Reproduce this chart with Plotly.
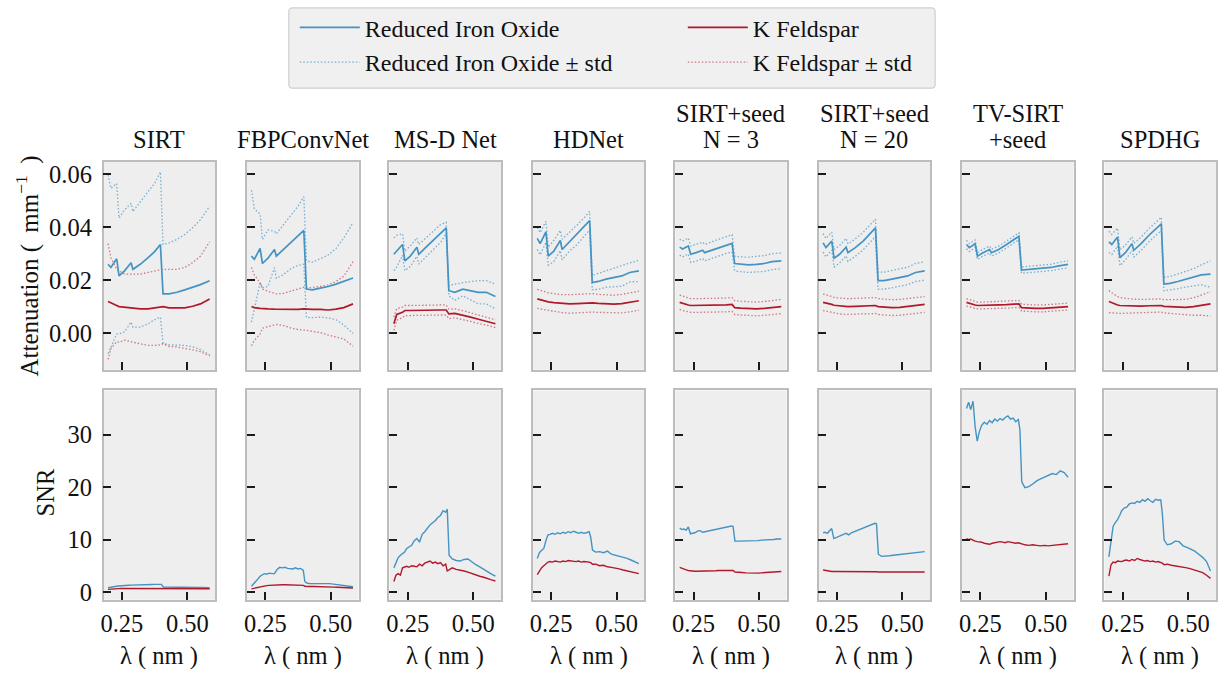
import plotly.graph_objects as go

# ---------------- data ----------------
LAMBDA_ATT = [0.197, 0.208, 0.230, 0.239, 0.26, 0.285, 0.292, 0.32, 0.35, 0.375,
              0.397, 0.407, 0.43, 0.46, 0.49, 0.52, 0.55, 0.585]
LAMBDA_SNR = [0.197, 0.205, 0.213, 0.222, 0.230, 0.238, 0.246, 0.255, 0.265, 0.275,
              0.285, 0.295, 0.305, 0.315, 0.325, 0.335, 0.345, 0.355, 0.365, 0.375,
              0.385, 0.395, 0.401, 0.408, 0.42, 0.435, 0.45, 0.465, 0.48, 0.495,
              0.51, 0.525, 0.54, 0.555, 0.57, 0.585]

METHOD_TITLES = [["SIRT"], ["FBPConvNet"], ["MS-D Net"], ["HDNet"], ["SIRT+seed", "N = 3"],
                 ["SIRT+seed", "N = 20"], ["TV-SIRT", "+seed"], ["SPDHG"]]
SERIES_NAMES = ["Reduced Iron Oxide", "K Feldspar"]
ATT_TICKS = [0.0, 0.02, 0.04, 0.06]
SNR_TICKS = [0, 10, 20, 30]
LAMBDA_TICKS = [0.25, 0.50]

# SIRT
SIRT_IRON_MEAN = [0.0260, 0.0248, 0.0281, 0.0216, 0.0235, 0.0266, 0.0241, 0.0260, 0.0285, 0.0308,
                  0.0335, 0.0148, 0.0148, 0.0154, 0.0163, 0.0173, 0.0183, 0.0198]
SIRT_IRON_STD = [0.0338, 0.0300, 0.0285, 0.0219, 0.0231, 0.0225, 0.0219, 0.0238, 0.0250, 0.0258,
                 0.0275, 0.0187, 0.0193, 0.0200, 0.0210, 0.0225, 0.0246, 0.0281]
SIRT_FELD_MEAN = [0.0119, 0.0113, 0.0104, 0.0100, 0.0098, 0.0094, 0.0094, 0.0091, 0.0091, 0.0094,
                  0.0098, 0.0100, 0.0095, 0.0094, 0.0095, 0.0101, 0.0110, 0.0129]
SIRT_FELD_STD = [0.0219, 0.0172, 0.0137, 0.0135, 0.0125, 0.0129, 0.0129, 0.0132, 0.0138, 0.0141,
                 0.0143, 0.0141, 0.0146, 0.0147, 0.0153, 0.0165, 0.0181, 0.0216]
SIRT_IRON_SNR = [0.8, 0.9, 1.0, 1.05, 1.1, 1.15, 1.2, 1.22, 1.25, 1.27, 1.3, 1.3, 1.32, 1.35, 1.37,
                 1.38, 1.4, 1.42, 1.43, 1.45, 1.47, 1.48, 1.45, 0.95, 0.93, 0.92, 0.92, 0.9, 0.9,
                 0.88, 0.87, 0.86, 0.85, 0.84, 0.82, 0.8]
SIRT_FELD_SNR = [0.5, 0.55, 0.6, 0.62, 0.63, 0.64, 0.65, 0.65, 0.66, 0.66, 0.67, 0.67, 0.67, 0.68,
                 0.68, 0.68, 0.69, 0.69, 0.7, 0.7, 0.7, 0.7, 0.7, 0.68, 0.68, 0.68, 0.67, 0.67,
                 0.66, 0.66, 0.65, 0.65, 0.64, 0.64, 0.63, 0.62]

# FBPConvNet
FBP_IRON_MEAN = [0.0291, 0.0279, 0.0320, 0.0263, 0.0283, 0.0316, 0.0291, 0.0316, 0.0345, 0.0368,
                 0.0388, 0.0166, 0.0163, 0.0170, 0.0176, 0.0185, 0.0195, 0.0208]
FBP_IRON_STD = [0.0250, 0.0191, 0.0130, 0.0091, 0.0107, 0.0069, 0.0084, 0.0094, 0.0100, 0.0112,
                0.0128, 0.0107, 0.0105, 0.0110, 0.0119, 0.0135, 0.0165, 0.0210]
FBP_FELD_MEAN = [0.0100, 0.0096, 0.0093, 0.0092, 0.0091, 0.0090, 0.0090, 0.0089, 0.0088, 0.0089,
                 0.0091, 0.0090, 0.0089, 0.0089, 0.0087, 0.0090, 0.0096, 0.0110]
FBP_FELD_STD = [0.0148, 0.0124, 0.0097, 0.0074, 0.0067, 0.0060, 0.0058, 0.0061, 0.0070, 0.0076,
                0.0082, 0.0080, 0.0083, 0.0087, 0.0095, 0.0105, 0.0119, 0.0160]
FBP_IRON_SNR = [1.1, 1.5, 2.0, 2.5, 3.0, 3.3, 3.5, 3.4, 3.6, 3.5, 3.5, 4.3, 4.7, 4.6, 4.7, 4.5,
                4.5, 4.4, 4.6, 4.4, 4.5, 4.1, 2.0, 1.7, 1.6, 1.6, 1.7, 1.7, 1.6, 1.6, 1.5, 1.4,
                1.3, 1.2, 1.1, 1.0]
FBP_FELD_SNR = [0.6, 0.7, 0.8, 0.9, 1.0, 1.1, 1.15, 1.2, 1.25, 1.3, 1.3, 1.32, 1.35, 1.37, 1.38,
                1.38, 1.37, 1.35, 1.33, 1.3, 1.28, 1.25, 1.1, 1.05, 1.05, 1.05, 1.0, 1.0, 0.98,
                0.95, 0.92, 0.9, 0.88, 0.85, 0.8, 0.75]

# MS-D Net
MSD_IRON_MEAN = [0.0298, 0.0310, 0.0335, 0.0273, 0.0291, 0.0325, 0.0298, 0.0325, 0.0354, 0.0376,
                 0.0398, 0.0160, 0.0154, 0.0166, 0.0160, 0.0154, 0.0154, 0.0138]
MSD_IRON_STD = [0.0062, 0.0060, 0.0041, 0.0037, 0.0039, 0.0035, 0.0037, 0.0035, 0.0036, 0.0034,
                0.0021, 0.0019, 0.0031, 0.0025, 0.0035, 0.0044, 0.0044, 0.0047]
MSD_FELD_MEAN = [0.0035, 0.0070, 0.0078, 0.0085, 0.0085, 0.0086, 0.0086, 0.0087, 0.0087, 0.0087,
                 0.0087, 0.0072, 0.0074, 0.0068, 0.0060, 0.0052, 0.0045, 0.0035]
MSD_FELD_STD = [0.0025, 0.0022, 0.0020, 0.0019, 0.0019, 0.0019, 0.0019, 0.0019, 0.0019, 0.0019,
                0.0019, 0.0018, 0.0017, 0.0017, 0.0016, 0.0016, 0.0015, 0.0015]
MSD_IRON_SNR = [4.6, 5.6, 6.5, 7.0, 7.4, 7.6, 8.3, 8.6, 8.9, 9.8, 10.2, 9.5, 11.0, 11.5, 12.2,
                12.8, 13.2, 13.6, 14.2, 14.6, 15.5, 15.2, 15.8, 7.0, 6.3, 6.0, 5.9, 6.2, 6.3,
                5.7, 5.2, 4.8, 4.3, 3.9, 3.4, 3.0]
MSD_FELD_SNR = [2.0, 3.2, 3.5, 3.2, 4.6, 4.8, 4.9, 4.7, 5.0, 4.9, 4.8, 5.3, 5.0, 5.5, 5.7, 5.9,
                5.5, 5.7, 5.4, 5.6, 5.0, 5.3, 4.0, 4.2, 4.6, 4.3, 4.2, 4.0, 3.8, 3.5, 3.3, 3.0,
                2.8, 2.5, 2.3, 2.1]

# HDNet
HD_IRON_MEAN = [0.0358, 0.0338, 0.0383, 0.0291, 0.0310, 0.0350, 0.0316, 0.0345, 0.0373, 0.0400,
                0.0425, 0.0191, 0.0195, 0.0204, 0.0210, 0.0216, 0.0229, 0.0235]
HD_IRON_STD = [0.0042, 0.0042, 0.0040, 0.0034, 0.0040, 0.0038, 0.0039, 0.0035, 0.0037, 0.0035,
               0.0035, 0.0027, 0.0030, 0.0031, 0.0035, 0.0039, 0.0036, 0.0040]
HD_FELD_MEAN = [0.0129, 0.0126, 0.0120, 0.0118, 0.0115, 0.0112, 0.0111, 0.0110, 0.0111, 0.0113,
                0.0115, 0.0114, 0.0112, 0.0111, 0.0109, 0.0111, 0.0116, 0.0122]
HD_FELD_STD = [0.0036, 0.0035, 0.0034, 0.0034, 0.0034, 0.0034, 0.0034, 0.0035, 0.0035, 0.0035,
               0.0035, 0.0035, 0.0034, 0.0034, 0.0034, 0.0035, 0.0036, 0.0036]
HD_IRON_SNR = [6.4, 7.5, 7.9, 8.3, 9.8, 10.9, 11.0, 11.2, 11.0, 11.3, 11.1, 11.4, 11.2, 11.5,
               11.3, 11.6, 11.4, 11.2, 11.4, 11.2, 11.3, 11.5, 10.5, 8.0, 7.6, 7.7, 7.5, 7.8,
               7.2, 7.0, 6.9, 6.6, 6.4, 6.1, 5.8, 5.4]
HD_FELD_SNR = [3.3, 4.0, 4.6, 5.0, 5.4, 5.7, 5.8, 5.7, 5.9, 5.8, 5.7, 5.9, 5.8, 6.0, 5.9, 5.9,
               5.8, 5.9, 5.7, 5.8, 5.8, 5.7, 5.6, 5.3, 5.3, 5.0, 5.1, 4.8, 4.7, 4.6, 4.4, 4.2,
               4.0, 3.9, 3.7, 3.5]

# SIRT+seed N = 3
N3_IRON_MEAN = [0.0325, 0.0318, 0.0329, 0.0298, 0.0304, 0.0313, 0.0304, 0.0313, 0.0325, 0.0333,
                0.0339, 0.0263, 0.0260, 0.0258, 0.0260, 0.0263, 0.0270, 0.0273]
N3_IRON_STD = [0.0030, 0.0030, 0.0030, 0.0031, 0.0032, 0.0031, 0.0031, 0.0031, 0.0031, 0.0032,
               0.0033, 0.0028, 0.0028, 0.0029, 0.0029, 0.0030, 0.0030, 0.0030]
N3_FELD_MEAN = [0.0116, 0.0112, 0.0106, 0.0104, 0.0104, 0.0104, 0.0104, 0.0104, 0.0105, 0.0106,
                0.0108, 0.0096, 0.0094, 0.0092, 0.0091, 0.0093, 0.0096, 0.0100]
N3_FELD_STD = [0.0027, 0.0027, 0.0026, 0.0026, 0.0026, 0.0026, 0.0026, 0.0026, 0.0026, 0.0026,
               0.0026, 0.0026, 0.0026, 0.0026, 0.0026, 0.0026, 0.0027, 0.0027]
N3_IRON_SNR = [12.2, 11.9, 12.0, 11.8, 12.4, 11.1, 11.2, 11.3, 11.6, 11.7, 11.4, 11.5, 11.6,
               11.7, 11.8, 11.9, 12.0, 12.1, 12.2, 12.3, 12.4, 12.6, 12.5, 9.7, 9.7, 9.7, 9.7,
               9.8, 9.8, 9.8, 9.9, 9.9, 10.0, 10.0, 10.1, 10.1]
N3_FELD_SNR = [4.7, 4.5, 4.3, 4.2, 4.1, 4.0, 4.0, 3.95, 3.95, 4.0, 4.0, 4.0, 4.0, 4.0, 4.05,
               4.05, 4.1, 4.1, 4.1, 4.15, 4.15, 4.2, 4.1, 3.8, 3.7, 3.7, 3.65, 3.6, 3.6, 3.6,
               3.65, 3.7, 3.75, 3.8, 3.85, 3.9]

# SIRT+seed N = 20
N20_IRON_MEAN = [0.0341, 0.0323, 0.0348, 0.0283, 0.0298, 0.0325, 0.0304, 0.0323, 0.0348, 0.0373,
                 0.0398, 0.0198, 0.0198, 0.0204, 0.0210, 0.0216, 0.0229, 0.0235]
N20_IRON_STD = [0.0035, 0.0035, 0.0034, 0.0033, 0.0033, 0.0033, 0.0033, 0.0033, 0.0033, 0.0033,
                0.0033, 0.0032, 0.0032, 0.0033, 0.0033, 0.0033, 0.0034, 0.0035]
N20_FELD_MEAN = [0.0116, 0.0114, 0.0108, 0.0105, 0.0102, 0.0100, 0.0100, 0.0101, 0.0103, 0.0102,
                 0.0104, 0.0100, 0.0098, 0.0096, 0.0097, 0.0100, 0.0104, 0.0108]
N20_FELD_STD = [0.0031, 0.0031, 0.0030, 0.0030, 0.0030, 0.0030, 0.0030, 0.0030, 0.0030, 0.0030,
                0.0030, 0.0030, 0.0030, 0.0030, 0.0030, 0.0030, 0.0030, 0.0030]
N20_IRON_SNR = [11.3, 11.4, 11.2, 11.6, 12.1, 10.2, 10.4, 10.6, 10.8, 11.0, 11.2, 10.9, 11.3,
                11.5, 11.7, 11.9, 12.1, 12.3, 12.5, 12.7, 12.9, 13.1, 13.0, 7.2, 6.8, 6.8, 6.9,
                7.0, 7.1, 7.2, 7.3, 7.4, 7.5, 7.6, 7.6, 7.7]
N20_FELD_SNR = [4.2, 4.1, 4.0, 3.95, 3.9, 3.9, 3.9, 3.85, 3.85, 3.9, 3.9, 3.9, 3.95, 3.9, 3.95,
                3.95, 3.9, 3.95, 3.9, 3.9, 3.9, 3.85, 3.85, 3.8, 3.8, 3.75, 3.75, 3.7, 3.7, 3.7,
                3.75, 3.75, 3.8, 3.8, 3.8, 3.8]

# TV-SIRT + seed
TV_IRON_MEAN = [0.0335, 0.0323, 0.0338, 0.0291, 0.0304, 0.0316, 0.0304, 0.0316, 0.0335, 0.0350,
                0.0366, 0.0238, 0.0240, 0.0241, 0.0244, 0.0248, 0.0254, 0.0260]
TV_IRON_STD = [0.0016, 0.0015, 0.0014, 0.0013, 0.0013, 0.0013, 0.0013, 0.0013, 0.0013, 0.0013,
               0.0013, 0.0012, 0.0012, 0.0012, 0.0012, 0.0012, 0.0013, 0.0013]
TV_FELD_MEAN = [0.0116, 0.0112, 0.0106, 0.0104, 0.0104, 0.0105, 0.0105, 0.0106, 0.0107, 0.0108,
                0.0110, 0.0096, 0.0094, 0.0093, 0.0093, 0.0095, 0.0097, 0.0100]
TV_FELD_STD = [0.0014, 0.0014, 0.0013, 0.0013, 0.0013, 0.0013, 0.0013, 0.0013, 0.0013, 0.0013,
               0.0013, 0.0013, 0.0013, 0.0013, 0.0013, 0.0013, 0.0013, 0.0013]
TV_IRON_SNR = [35.0, 36.2, 34.8, 36.4, 31.5, 28.8, 30.6, 31.8, 32.4, 32.0, 32.7, 32.3, 33.0,
               32.6, 33.1, 32.8, 33.3, 33.6, 33.0, 33.2, 32.5, 32.9, 31.0, 21.0, 19.9, 20.1,
               20.6, 21.2, 21.6, 21.9, 22.3, 22.6, 22.4, 23.1, 22.8, 21.9]
TV_FELD_SNR = [10.2, 10.0, 10.1, 9.8, 9.7, 9.6, 9.6, 9.5, 9.3, 9.2, 9.1, 9.3, 9.4, 9.5, 9.6,
               9.5, 9.4, 9.6, 9.5, 9.4, 9.3, 9.4, 9.3, 9.2, 9.0, 8.9, 9.0, 8.9, 8.8, 8.9, 8.8,
               8.9, 9.0, 9.1, 9.2, 9.2]

# SPDHG
SPDHG_IRON_MEAN = [0.0345, 0.0335, 0.0363, 0.0285, 0.0304, 0.0338, 0.0313, 0.0338, 0.0370,
                   0.0391, 0.0413, 0.0185, 0.0188, 0.0195, 0.0204, 0.0210, 0.0220, 0.0223]
SPDHG_IRON_STD = [0.0040, 0.0038, 0.0034, 0.0030, 0.0028, 0.0026, 0.0026, 0.0025, 0.0025,
                  0.0025, 0.0025, 0.0025, 0.0026, 0.0028, 0.0030, 0.0033, 0.0038, 0.0050]
SPDHG_FELD_MEAN = [0.0119, 0.0114, 0.0106, 0.0104, 0.0103, 0.0102, 0.0102, 0.0102, 0.0103,
                   0.0103, 0.0104, 0.0101, 0.0100, 0.0098, 0.0097, 0.0100, 0.0105, 0.0110]
SPDHG_FELD_STD = [0.0042, 0.0038, 0.0032, 0.0030, 0.0028, 0.0026, 0.0026, 0.0025, 0.0025,
                  0.0025, 0.0025, 0.0025, 0.0026, 0.0028, 0.0030, 0.0033, 0.0038, 0.0046]
SPDHG_IRON_SNR = [6.7, 10.0, 12.5, 13.3, 13.8, 14.6, 15.5, 16.0, 16.2, 16.8, 17.0, 16.9, 17.3,
                  17.1, 17.6, 17.3, 17.8, 17.4, 17.1, 17.7, 17.5, 17.6, 15.0, 9.9, 9.0, 9.2,
                  9.7, 9.6, 8.8, 8.5, 8.2, 7.8, 7.2, 6.6, 5.8, 4.0]
SPDHG_FELD_SNR = [3.0, 5.2, 5.7, 5.6, 5.9, 5.8, 5.8, 6.0, 6.1, 5.9, 6.2, 6.0, 6.4, 6.2, 6.0,
                  5.9, 6.0, 5.8, 5.9, 5.7, 5.8, 5.7, 5.5, 5.2, 5.3, 5.1, 5.0, 4.9, 4.8, 4.6,
                  4.4, 4.2, 4.0, 3.7, 3.2, 2.6]

PANELS = [
    (SIRT_IRON_MEAN, SIRT_IRON_STD, SIRT_FELD_MEAN, SIRT_FELD_STD, SIRT_IRON_SNR, SIRT_FELD_SNR),
    (FBP_IRON_MEAN, FBP_IRON_STD, FBP_FELD_MEAN, FBP_FELD_STD, FBP_IRON_SNR, FBP_FELD_SNR),
    (MSD_IRON_MEAN, MSD_IRON_STD, MSD_FELD_MEAN, MSD_FELD_STD, MSD_IRON_SNR, MSD_FELD_SNR),
    (HD_IRON_MEAN, HD_IRON_STD, HD_FELD_MEAN, HD_FELD_STD, HD_IRON_SNR, HD_FELD_SNR),
    (N3_IRON_MEAN, N3_IRON_STD, N3_FELD_MEAN, N3_FELD_STD, N3_IRON_SNR, N3_FELD_SNR),
    (N20_IRON_MEAN, N20_IRON_STD, N20_FELD_MEAN, N20_FELD_STD, N20_IRON_SNR, N20_FELD_SNR),
    (TV_IRON_MEAN, TV_IRON_STD, TV_FELD_MEAN, TV_FELD_STD, TV_IRON_SNR, TV_FELD_SNR),
    (SPDHG_IRON_MEAN, SPDHG_IRON_STD, SPDHG_FELD_MEAN, SPDHG_FELD_STD, SPDHG_IRON_SNR, SPDHG_FELD_SNR),
]

# ---------------- style / layout ----------------
W, H = 1218, 674
FONT = "'Liberation Serif', 'Times New Roman', 'DejaVu Serif', serif"
BLUE = "#4393c3"
RED = "#b2182b"
BLUE_STD = "rgba(67,147,195,0.7)"
RED_STD = "rgba(178,24,43,0.55)"
COL_LEFT = [101, 245, 388, 532, 675, 819, 963, 1106]
COL_W = 112
ROW_TOP = [(163, 373), (394, 605)]
X_RANGE = [0.18, 0.606]
ATT_RANGE = [-0.0139, 0.0649]
SNR_RANGE = [-1.46, 38.45]
FS = 24.5
LEG_FS = 24


def px_x(p):
    return p / W


def px_y(p):
    return 1 - p / H


fig = go.Figure()
layout = {}
annotations = []

for c, data in enumerate(PANELS):
    iron_mean, iron_std, feld_mean, feld_std, iron_snr, feld_snr = data
    for r in range(2):
        idx = r * 8 + c + 1
        xa = "x" if idx == 1 else f"x{idx}"
        ya = "y" if idx == 1 else f"y{idx}"
        first = (c == 0 and r == 0)
        if r == 0:
            for mean, std, col, scol, name in [
                (iron_mean, iron_std, BLUE, BLUE_STD, SERIES_NAMES[0]),
                (feld_mean, feld_std, RED, RED_STD, SERIES_NAMES[1]),
            ]:
                upper = [m + s for m, s in zip(mean, std)]
                lower = [m - s for m, s in zip(mean, std)]
                fig.add_trace(go.Scatter(
                    x=LAMBDA_ATT, y=upper, mode="lines", xaxis=xa, yaxis=ya,
                    line=dict(color=scol, width=1.3, dash="1.5px,2px"),
                    name=name + " ± std", legend="legend2", legendgroup=name + "std",
                    showlegend=first, hoverinfo="skip"))
                fig.add_trace(go.Scatter(
                    x=LAMBDA_ATT, y=lower, mode="lines", xaxis=xa, yaxis=ya,
                    line=dict(color=scol, width=1.3, dash="1.5px,2px"),
                    name=name + " ± std", legend="legend2", legendgroup=name + "std",
                    showlegend=False, hoverinfo="skip"))
            for mean, col, name in [(iron_mean, BLUE, SERIES_NAMES[0]),
                                    (feld_mean, RED, SERIES_NAMES[1])]:
                fig.add_trace(go.Scatter(
                    x=LAMBDA_ATT, y=mean, mode="lines", xaxis=xa, yaxis=ya,
                    line=dict(color=col, width=1.7), name=name, legend="legend",
                    legendgroup=name, showlegend=first))
        else:
            for snr, col, name in [(iron_snr, BLUE, SERIES_NAMES[0]),
                                   (feld_snr, RED, SERIES_NAMES[1])]:
                fig.add_trace(go.Scatter(
                    x=LAMBDA_SNR, y=snr, mode="lines", xaxis=xa, yaxis=ya,
                    line=dict(color=col, width=1.4), name=name,
                    legendgroup=name, showlegend=False))

        x0, x1 = COL_LEFT[c], COL_LEFT[c] + COL_W
        t, b = ROW_TOP[r]
        axis_common = dict(showline=True, mirror=True, linecolor="#bdbdbd", linewidth=1.5,
                           showgrid=False, zeroline=False, ticks="inside", ticklen=8,
                           tickwidth=2, tickcolor="#1a1a1a",
                           tickfont=dict(family=FONT, size=FS, color="#111"))
        layout["xaxis" if idx == 1 else f"xaxis{idx}"] = dict(
            axis_common, domain=[px_x(x0), px_x(x1)], anchor=ya, range=X_RANGE,
            tickvals=LAMBDA_TICKS, tickformat=".2f", showticklabels=(r == 1),
            ticklabelstandoff=1)
        layout["yaxis" if idx == 1 else f"yaxis{idx}"] = dict(
            axis_common, domain=[px_y(b), px_y(t)], anchor=xa,
            range=ATT_RANGE if r == 0 else SNR_RANGE,
            tickvals=ATT_TICKS if r == 0 else SNR_TICKS,
            tickformat=".2f" if r == 0 else "d", showticklabels=(c == 0),
            ticklabelstandoff=5)

    cx = px_x(COL_LEFT[c] + COL_W / 2)
    lines = METHOD_TITLES[c]
    ys = [141] if len(lines) == 1 else [115, 141]
    for txt, yy in zip(lines, ys):
        annotations.append(dict(text=txt, x=cx, y=px_y(yy), xref="paper",
                                yref="paper", xanchor="center", yanchor="middle",
                                showarrow=False, font=dict(family=FONT, size=FS, color="#111")))
    annotations.append(dict(text="λ ( nm )", x=cx, y=px_y(662), xref="paper",
                            yref="paper", xanchor="center", yanchor="middle",
                            showarrow=False, font=dict(family=FONT, size=FS, color="#111")))

annotations.append(dict(text="Attenuation ( \u2009mm<sup>−1</sup> \u2009)", x=px_x(25),
                        y=px_y(268), xref="paper", yref="paper", xanchor="center",
                        yanchor="middle", textangle=-90, showarrow=False,
                        font=dict(family=FONT, size=FS + 0.5, color="#111")))
annotations.append(dict(text="SNR", x=px_x(43), y=px_y(497), xref="paper", yref="paper",
                        xanchor="center", yanchor="middle", textangle=-90, showarrow=False,
                        font=dict(family=FONT, size=FS, color="#111")))

# legend frame (rounded rectangle, paper coordinates)
lx0, lx1, ly0, ly1, rad = 287, 936, 8, 89, 4
path = (f"M {px_x(lx0 + rad)},{px_y(ly0)} L {px_x(lx1 - rad)},{px_y(ly0)} "
        f"Q {px_x(lx1)},{px_y(ly0)} {px_x(lx1)},{px_y(ly0 + rad)} "
        f"L {px_x(lx1)},{px_y(ly1 - rad)} Q {px_x(lx1)},{px_y(ly1)} {px_x(lx1 - rad)},{px_y(ly1)} "
        f"L {px_x(lx0 + rad)},{px_y(ly1)} Q {px_x(lx0)},{px_y(ly1)} {px_x(lx0)},{px_y(ly1 - rad)} "
        f"L {px_x(lx0)},{px_y(ly0 + rad)} Q {px_x(lx0)},{px_y(ly0)} {px_x(lx0 + rad)},{px_y(ly0)} Z")

legend_common = dict(orientation="h", xanchor="left", yanchor="middle",
                     bgcolor="rgba(0,0,0,0)", borderwidth=0, entrywidth=313,
                     entrywidthmode="pixels", itemwidth=60, traceorder="normal",
                     font=dict(family=FONT, size=LEG_FS, color="#111"))

fig.update_layout(
    width=W, height=H, margin=dict(l=0, r=0, t=0, b=0),
    paper_bgcolor="white", plot_bgcolor="#eeeeee",
    font=dict(family=FONT, size=FS, color="#111"),
    annotations=annotations,
    shapes=[dict(type="path", path=path, xref="paper", yref="paper",
                 fillcolor="#f0f0f0", line=dict(color="#cfcfcf", width=1.2), layer="below")],
    legend=dict(legend_common, x=px_x(293), y=px_y(28)),
    legend2=dict(legend_common, x=px_x(293), y=px_y(63)),
    **layout,
)

fig.write_html("out.html")
